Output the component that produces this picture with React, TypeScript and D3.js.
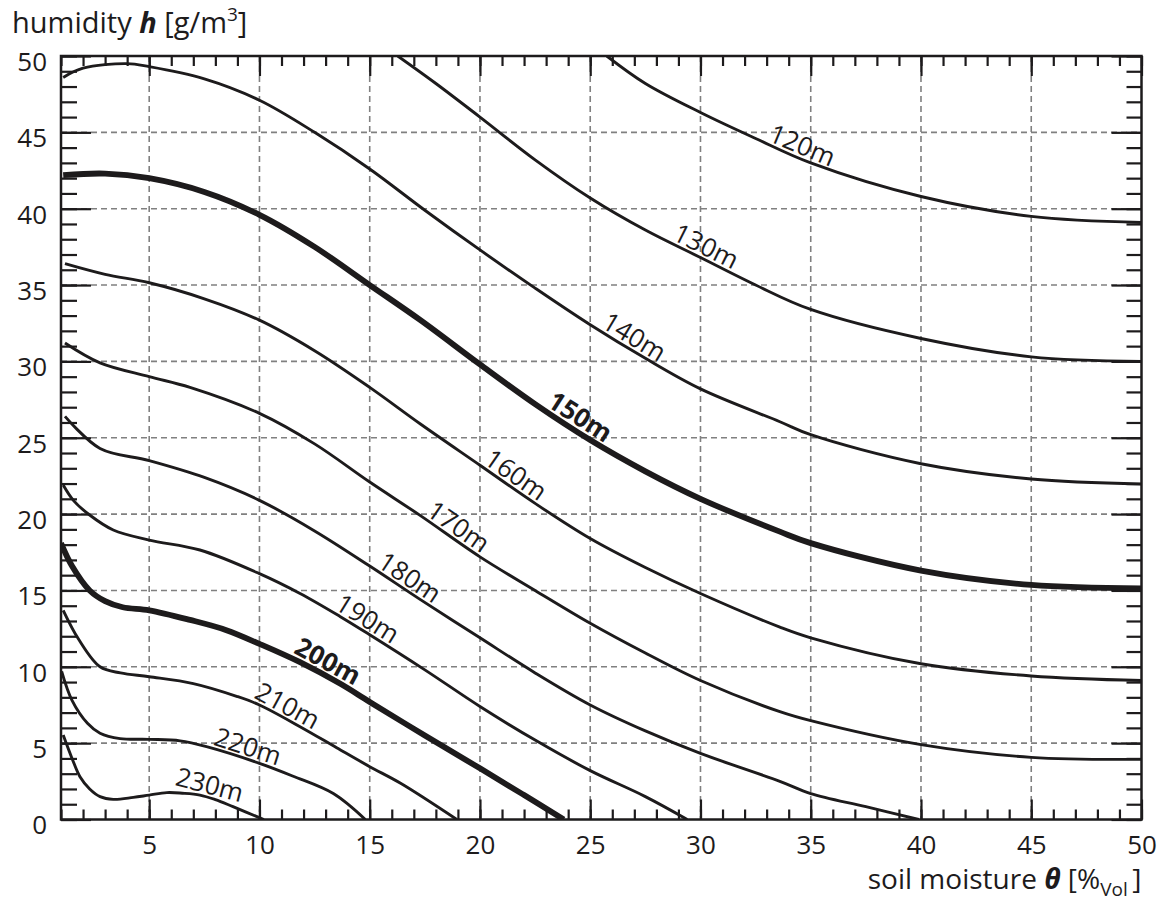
import { useEffect, useRef } from 'react'
import * as d3 from 'd3'

// soil moisture θ [%Vol] -> humidity h [g/m³], one isoline per depth
const c120 = [[25.75, 50], [27.5, 48.2], [30, 46.3], [32.5, 44.6], [35, 43.0], [40, 40.8], [45, 39.5], [50, 39.1]]
const c130 = [[16.27, 50], [18, 48.2], [20, 46.0], [22.5, 43.2], [25, 40.7], [27.5, 38.6], [30, 36.8], [32.5, 35.0], [35, 33.4], [40, 31.5], [45, 30.3], [50, 30.0]]
const c140 = [[1.1, 48.6], [2, 49.2], [4, 49.5], [5, 49.3], [7.5, 48.5], [10, 47.1], [12.5, 45.0], [15, 42.6], [17.5, 39.9], [20, 37.3], [22.5, 34.8], [25, 32.4], [27.5, 30.2], [30, 28.2], [33.6, 26.05], [35, 25.2], [40, 23.3], [45, 22.3], [50, 21.97]]
const c150 = [[1.1, 42.2], [3, 42.3], [5, 42.0], [7.5, 41.1], [10, 39.6], [12.5, 37.5], [15, 35.0], [17.3, 32.7], [20, 29.8], [22.5, 27.2], [25, 24.85], [27.5, 22.8], [30, 21.0], [33.6, 18.85], [35, 18.1], [40, 16.3], [45, 15.36], [50, 15.14]]
const c160 = [[1.18, 36.4], [3, 35.7], [5, 35.15], [7.5, 34.1], [10, 32.7], [12.5, 30.7], [15, 28.3], [17.3, 25.9], [20, 23.2], [22.5, 20.7], [25, 18.4], [27.5, 16.5], [30, 14.8], [33.6, 12.6], [35, 11.9], [40, 10.2], [45, 9.4], [50, 9.1]]
const c170 = [[1.18, 31.2], [2.77, 29.9], [5, 29.0], [6.85, 28.3], [10, 26.6], [12.5, 24.6], [15, 22.1], [17.3, 19.9], [20, 17.2], [22.5, 15.0], [25, 12.85], [27.5, 10.9], [30, 9.1], [33.6, 7.06], [35, 6.47], [40, 4.9], [45, 4.07], [50, 3.94]]
const c180 = [[1.18, 26.4], [2.77, 24.3], [5, 23.5], [7.5, 22.4], [10, 20.9], [12.5, 18.9], [15, 16.6], [17.3, 14.4], [20, 11.9], [22.5, 9.6], [25, 7.5], [27.5, 5.8], [30, 4.33], [33.6, 2.5], [35, 1.7], [37.5, 0.84], [39.9, 0]]
const c190 = [[1.1, 21.9], [1.56, 20.9], [2.3, 19.94], [3.37, 18.96], [5, 18.3], [7.3, 17.65], [10, 16.1], [11.84, 14.8], [13.65, 13.3], [15, 12.1], [17.5, 9.8], [20, 7.4], [22.5, 5.2], [25, 3.2], [27.5, 1.5], [29.4, 0]]
const c200 = [[1, 18.1], [1.5, 16.6], [2.3, 15.0], [3.0, 14.3], [3.8, 13.9], [5, 13.7], [6.85, 13.07], [8.5, 12.4], [10, 11.5], [11.84, 10.3], [13.65, 8.9], [15, 7.7], [17.5, 5.5], [20, 3.35], [22, 1.6], [23.8, 0]]
const c210 = [[1.1, 13.7], [1.8, 11.8], [2.77, 10.0], [3.7, 9.6], [5, 9.35], [7, 8.9], [9, 8.05], [10, 7.5], [11.84, 6.08], [13.5, 4.7], [15, 3.46], [16.4, 2.37], [18.95, 0]]
const c220 = [[1.03, 9.7], [1.5, 7.8], [2.2, 6.3], [2.77, 5.65], [3.68, 5.3], [5, 5.25], [6.4, 5.15], [7.6, 4.77], [10, 3.68], [11.5, 2.85], [13.35, 1.7], [14.8, 0]]
const c230 = [[1.1, 5.53], [1.5, 4.0], [1.86, 2.8], [2.3, 2.0], [2.77, 1.5], [3.37, 1.32], [4.28, 1.45], [5, 1.6], [5.8, 1.76], [6.5, 1.72], [7.3, 1.6], [8.0, 1.3], [8.8, 0.84], [10.2, 0]]

const depths = [120, 130, 140, 150, 160, 170, 180, 190, 200, 210, 220, 230]
const curveData = [c120, c130, c140, c150, c160, c170, c180, c190, c200, c210, c220, c230]
const labelTheta = [34.4, 30.0, 26.7, 24.2, 21.3, 18.7, 16.5, 14.6, 12.8, 11.0, 9.3, 7.6]
const boldDepths = [150, 200]

const xMajor = [5, 10, 15, 20, 25, 30, 35, 40, 45, 50]
const yMajor = [0, 5, 10, 15, 20, 25, 30, 35, 40, 45, 50]

const FONT = "'Open Sans', 'Noto Sans', sans-serif"
const INK = '#1d1b1c'

// linear lookup along a curve's points
function interp(pts, t) {
  for (let i = 1; i < pts.length; i++) {
    if (t <= pts[i][0]) {
      const [x0, y0] = pts[i - 1], [x1, y1] = pts[i]
      return y0 + (y1 - y0) * (t - x0) / (x1 - x0)
    }
  }
  return pts[pts.length - 1][1]
}

export default function App() {
  const svgRef = useRef(null)

  useEffect(() => {
    const W = 1159, H = 903
    const svg = d3.select(svgRef.current)
    svg.selectAll('*').remove()
    svg.attr('width', W).attr('height', H)

    const x = d3.scaleLinear().domain([1, 50]).range([61, 1141.5])
    const y = d3.scaleLinear().domain([0, 50]).range([819.5, 56])
    const [x0, x1] = x.range()
    const [y0, y1] = y.range()

    svg.append('rect').attr('width', W).attr('height', H).attr('fill', '#fff')

    // dashed grid
    const grid = svg.append('g').attr('stroke', '#808080').attr('stroke-width', 1.6).attr('stroke-dasharray', '6,4')
    grid.selectAll('.gx').data(xMajor.filter(d => d < 50)).join('line')
      .attr('x1', d => x(d)).attr('x2', d => x(d)).attr('y1', y1).attr('y2', y0)
    grid.selectAll('.gy').data(yMajor.filter(d => d > 0 && d < 50)).join('line')
      .attr('y1', d => y(d)).attr('y2', d => y(d)).attr('x1', x0).attr('x2', x1)

    // ticks (inward)
    const styleAxis = g => {
      g.select('.domain').remove()
      g.selectAll('.tick line').attr('stroke', INK).attr('stroke-width', 2.2)
      g.selectAll('text').attr('font-family', FONT).attr('font-size', 26).attr('fill', INK)
    }
    const minorX = d3.range(1, 51)
    const minorY = d3.range(0, 51)
    svg.append('g').attr('transform', `translate(0,${y0})`)
      .call(d3.axisBottom(x).tickValues(minorX).tickSize(-10).tickFormat(() => '')).call(styleAxis)
    svg.append('g').attr('transform', `translate(0,${y0})`)
      .call(d3.axisBottom(x).tickValues(xMajor).tickSize(-20).tickPadding(16).tickFormat(d => String(d))).call(styleAxis)
    svg.append('g').attr('transform', `translate(0,${y1})`)
      .call(d3.axisTop(x).tickValues(minorX).tickSize(-10).tickFormat(() => '')).call(styleAxis)
    svg.append('g').attr('transform', `translate(0,${y1})`)
      .call(d3.axisTop(x).tickValues(xMajor).tickSize(-20).tickFormat(() => '')).call(styleAxis)
    svg.append('g').attr('transform', `translate(${x0},0)`)
      .call(d3.axisLeft(y).tickValues(minorY).tickSize(-16).tickFormat(() => '')).call(styleAxis)
    svg.append('g').attr('transform', `translate(${x0},0)`)
      .call(d3.axisLeft(y).tickValues(yMajor).tickSize(-30).tickPadding(14).tickFormat(d => String(d)))
      .call(styleAxis)
      .call(g => g.selectAll('text').attr('dy', '0.55em'))
    svg.append('g').attr('transform', `translate(${x1},0)`)
      .call(d3.axisRight(y).tickValues(minorY).tickSize(-15).tickFormat(() => '')).call(styleAxis)
    svg.append('g').attr('transform', `translate(${x1},0)`)
      .call(d3.axisRight(y).tickValues(yMajor).tickSize(-30).tickFormat(() => '')).call(styleAxis)

    // isolines
    const line = d3.line().x(d => x(d[0])).y(d => y(d[1])).curve(d3.curveCatmullRom.alpha(0.5))
    svg.append('defs').append('clipPath').attr('id', 'plot-clip')
      .append('rect').attr('x', x0).attr('y', y1).attr('width', x1 - x0).attr('height', y0 - y1)
    const lines = svg.append('g').attr('clip-path', 'url(#plot-clip)')
    curveData.forEach((pts, i) => {
      const bold = boldDepths.includes(depths[i])
      lines.append('path').attr('d', line(pts)).attr('fill', 'none')
        .attr('stroke', INK).attr('stroke-width', bold ? 5.8 : 2.9)
        .attr('stroke-linejoin', 'round').attr('stroke-linecap', 'butt')
    })

    // labels sitting on each line
    curveData.forEach((pts, i) => {
      const t = labelTheta[i]
      const bold = boldDepths.includes(depths[i])
      const px = x(t), py = y(interp(pts, t))
      const ax = x(t - 1), ay = y(interp(pts, t - 1))
      const bx = x(t + 1), by = y(interp(pts, t + 1))
      const ang = Math.atan2(by - ay, bx - ax) * 180 / Math.PI
      svg.append('text')
        .attr('transform', `translate(${px},${py}) rotate(${ang})`)
        .attr('y', bold ? -5 : -3.5)
        .attr('text-anchor', 'middle')
        .attr('font-family', FONT).attr('font-size', 26)
        .attr('font-weight', bold ? 700 : 400)
        .attr('fill', INK)
        .text(`${depths[i]}m`)
    })

    // frame
    svg.append('rect').attr('x', x0).attr('y', y1).attr('width', x1 - x0).attr('height', y0 - y1)
      .attr('fill', 'none').attr('stroke', INK).attr('stroke-width', 2.5)

    // axis titles
    const yt = svg.append('text').attr('x', 12).attr('y', 33)
      .attr('font-family', FONT).attr('font-size', 29).attr('fill', INK)
    yt.append('tspan').text('humidity ')
    yt.append('tspan').attr('font-weight', 700).attr('font-style', 'italic').text('h')
    yt.append('tspan').text(' [g/m')
    yt.append('tspan').attr('dy', -12).attr('font-size', 19).text('3')
    yt.append('tspan').attr('dy', 12).text(']')

    const xt = svg.append('text').attr('x', x1).attr('y', 889).attr('text-anchor', 'end')
      .attr('font-family', FONT).attr('font-size', 28).attr('fill', INK)
    xt.append('tspan').text('soil moisture ')
    xt.append('tspan').attr('font-weight', 700).attr('font-style', 'italic').text('θ')
    xt.append('tspan').text(' [%')
    xt.append('tspan').attr('dy', 7).attr('font-size', 19).text('Vol')
    xt.append('tspan').attr('dy', -7).text('\u2009]')
  }, [])

  return <svg ref={svgRef} style={{ position: 'absolute', left: 0, top: 0, display: 'block' }} />
}
